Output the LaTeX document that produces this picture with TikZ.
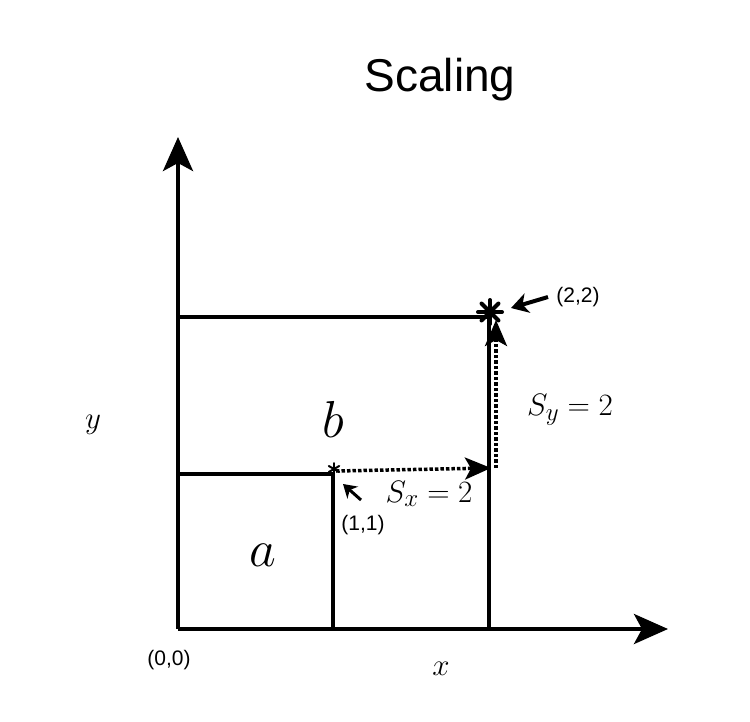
\RequirePackage{fix-cm}
\documentclass[tikz,border=0pt]{standalone}
\usepackage{fontspec}
\setsansfont{Liberation Sans}
\usetikzlibrary{arrows.meta}
\newcommand\bigsub[1]{_{\mbox{\fontsize{25}{25}\selectfont$#1$}}}
\begin{document}
\begin{tikzpicture}[x=1pt,y=-1pt,
  ln/.style={line width=4pt},
  bigarr/.style={ln,-{Stealth[length=34pt,width=30pt,inset=8pt]}},
  dotarr/.style={line width=3.5pt,dotted,-{Stealth[length=26pt,width=22pt,inset=6pt,sep=0pt]}},
  smallarr/.style={line width=3pt,-{Stealth[length=13pt,width=16pt,inset=4pt]}},
  bigpointer/.style={line width=4pt,-{Stealth[length=17pt,width=20pt,inset=5pt]}},
  coordlbl/.style={font=\sffamily\fontsize{21}{24}\selectfont, inner sep=0pt},
  mathlbl/.style={font=\fontsize{31}{34}\selectfont, inner sep=0pt},
  biglbl/.style={font=\fontsize{52}{56}\selectfont, inner sep=0pt}]
\useasboundingbox (0,0) rectangle (750,721);
\coordinate (O) at (178,629);
\coordinate (XE) at (668,629);
\coordinate (YE) at (178,137);
\coordinate (P1) at (333,474);
\coordinate (P2) at (489,317);
\coordinate (Y1) at (178,474);
\coordinate (Y2) at (178,317);
\coordinate (X1) at (333,629);
\coordinate (X2) at (489,629);
% axes
\draw[bigarr] (O) -- (XE);
\draw[bigarr] (O) -- (YE);
% rectangles
\draw[ln] (Y1) -- (P1) -- (X1);
\draw[ln] (Y2) -- (P2) -- (X2);
% dotted scaling arrows
\coordinate (DA0) at (336,471);
\coordinate (DA1) at (491,468);
\coordinate (DB0) at (496,468);
\coordinate (DB1) at (496,320);
\draw[dotarr] (DA0) -- (DA1);
\draw[dotarr] (DB0) -- (DB1);
% asterisks
\coordinate (S1) at (334,469);
\coordinate (S2) at (490,312);
\foreach \a in {90,150,210,270,330,30}
  \draw[line width=2pt, line cap=round] (S1) -- ++(\a:6pt);
\foreach \a in {90,135,180,225,270,315,0,45}
  \draw[line width=4pt, line cap=round] (S2) -- ++(\a:12pt);
% small pointer arrows
\coordinate (A1s) at (361,500);
\coordinate (A1e) at (343,484);
\draw[smallarr] (A1s) -- (A1e);
\coordinate (A2s) at (548,297);
\coordinate (A2e) at (511,308);
\draw[bigpointer] (A2s) -- (A2e);
% labels
\node[font=\sffamily\fontsize{46}{50}\selectfont, inner sep=0pt] (title) at (440,80) {Scaling};
\node[biglbl] (lb) at (333,419) {$b$};
\node[biglbl] (la) at (263,555) {$a$};
\node[mathlbl] (sx) at (429,494) {$S\bigsub{x} = 2$};
\node[mathlbl] (sy) at (570,410) {$S\bigsub{y} = 2$};
\node[font=\fontsize{31}{33}\selectfont, inner sep=0pt] (ly) at (93,425) {$y$};
\node[font=\fontsize{31}{33}\selectfont, inner sep=0pt] (lx) at (441,669) {$x$};
\node[coordlbl] (c00) at (169,660) {(0,0)};
\node[coordlbl] (c11) at (363,525) {(1,1)};
\node[coordlbl] (c22) at (578,297) {(2,2)};
\end{tikzpicture}
\end{document}
